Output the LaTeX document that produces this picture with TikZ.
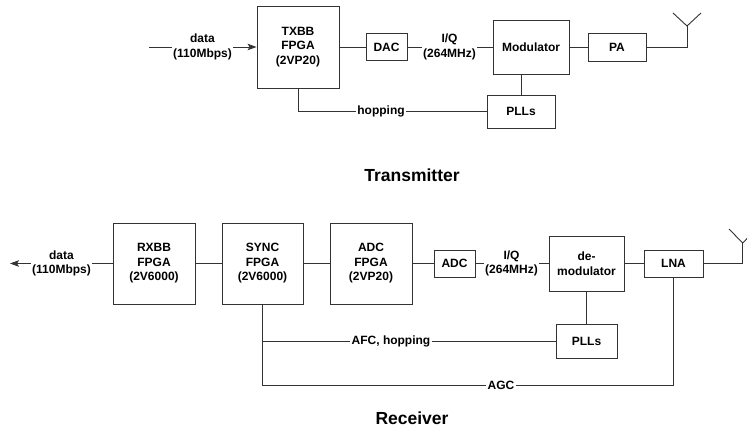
\documentclass[tikz,border=0pt]{standalone}
\usepackage{fontspec}
\setmainfont{Liberation Sans}
\usetikzlibrary{arrows.meta}
\begin{document}
\begin{tikzpicture}[x=1pt,y=-1pt,
  box/.style={draw=black!80,line width=0.9pt,inner sep=0pt,align=center,font=\bfseries\fontsize{12}{14.5}\selectfont},
  lbl/.style={inner sep=1.2pt,align=center,font=\bfseries\fontsize{12}{14.5}\selectfont},
  wire/.style={draw=black!80,line width=0.9pt},
  arr/.style={wire,-{Stealth[length=9pt,width=6.5pt,inset=2pt]}},
  ttl/.style={font=\bfseries\fontsize{17.5}{20}\selectfont}]
\clip (0,0) rectangle (747,430);
\fill[white] (0,0) rectangle (747,430);

% ---------------- Transmitter ----------------
\node[box,minimum width=82pt,minimum height=82pt] (txbb) at (298,47) {TXBB\\FPGA\\(2VP20)};
\node[box,minimum width=41pt,minimum height=27pt] (dac) at (386.5,47) {DAC};
\node[box,minimum width=76pt,minimum height=54pt] (mod) at (531,47) {Modulator};
\node[box,minimum width=58pt,minimum height=28pt] (pa) at (617,47) {PA};
\node[box,minimum width=68pt,minimum height=33pt] (plltx) at (521,111.5) {PLLs};

\node[lbl] (dtx) at (202.5,47) {data\\(110Mbps)};
\node[lbl] (iqtx) at (449.5,47) {I/Q\\(264MHz)};
\node[lbl] (hop) at (381,111.5) {hopping};
\coordinate (intx) at (149,47);
\coordinate (anttx) at (687,26);
\coordinate (anttxl) at (673,13);
\coordinate (anttxr) at (701,13);

\draw[wire] (intx) -- (dtx);
\draw[arr] (dtx) -- (txbb);
\draw[wire] (txbb) -- (dac);
\draw[wire] (dac) -- (iqtx);
\draw[wire] (iqtx) -- (mod);
\draw[wire] (mod) -- (pa);
\draw[wire] (pa) -- (pa -| anttx) -- (anttx);
\draw[wire] (anttxl) -- (anttx) -- (anttxr);
\draw[wire] (plltx.north) -- (plltx.north |- mod.south);
\draw[wire] (txbb.south) -- (txbb.south |- hop) -- (hop);
\draw[wire] (hop) -- (plltx);

\node[ttl] (ttx) at (412,175) {Transmitter};

% ---------------- Receiver ----------------
\node[box,minimum width=82pt,minimum height=81pt] (rxbb) at (154,263.5) {RXBB\\FPGA\\(2V6000)};
\node[box,minimum width=81pt,minimum height=81pt] (sync) at (262.5,263.5) {SYNC\\FPGA\\(2V6000)};
\node[box,minimum width=82pt,minimum height=81pt] (adcf) at (371,263.5) {ADC\\FPGA\\(2VP20)};
\node[box,minimum width=41pt,minimum height=27pt] (adc) at (454.5,263.5) {ADC};
\node[box,minimum width=75pt,minimum height=55pt] (demod) at (586.5,263.5) {de-\\modulator};
\node[box,minimum width=59pt,minimum height=27pt] (lna) at (673.5,263.5) {LNA};
\node[box,minimum width=61pt,minimum height=34pt] (pllrx) at (586.5,341) {PLLs};

\node[lbl] (drx) at (61.5,263.5) {data\\(110Mbps)};
\node[lbl] (iqrx) at (511.5,263.5) {I/Q\\(264MHz)};
\node[lbl] (afc) at (391,341) {AFC, hopping};
\node[lbl] (agc) at (501,385) {AGC};
\coordinate (outrx) at (10,263.5);
\coordinate (antrx) at (742.7,243);
\coordinate (antrxl) at (729,229);
\coordinate (antrxr) at (756.4,229);

\draw[arr] (drx) -- (outrx);
\draw[wire] (rxbb) -- (drx);
\draw[wire] (sync) -- (rxbb);
\draw[wire] (adcf) -- (sync);
\draw[wire] (adc) -- (adcf);
\draw[wire] (iqrx) -- (adc);
\draw[wire] (demod) -- (iqrx);
\draw[wire] (lna) -- (demod);
\draw[wire] (lna) -- (lna -| antrx) -- (antrx);
\draw[wire] (antrxl) -- (antrx) -- (antrxr);
\draw[wire] (demod) -- (pllrx);
\draw[wire] (sync.south) -- (sync.south |- agc) -- (agc);
\draw[wire] (agc) -- (agc -| lna) -- (lna.south);
\draw[wire] (sync.south |- afc) -- (afc);
\draw[wire] (afc) -- (pllrx);

\node[ttl] (trx) at (412,418) {Receiver};
\end{tikzpicture}
\end{document}
